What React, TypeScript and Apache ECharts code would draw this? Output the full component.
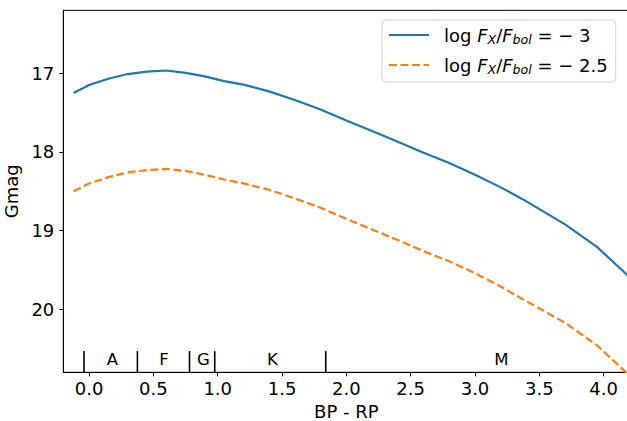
import React, { useEffect, useRef } from "react";
import * as echarts from "echarts";

// BP - RP colour grid
const bpRp = [-0.12, 0.0, 0.15, 0.3, 0.45, 0.6, 0.75, 0.9, 1.05, 1.2, 1.4, 1.6, 1.8, 2.0, 2.2, 2.4, 2.6, 2.8, 3.0, 3.2, 3.37, 3.7, 3.95, 4.2];
// Gmag for log Fx/Fbol = -3
const gmagA = [17.25, 17.15, 17.07, 17.01, 16.98, 16.965, 16.995, 17.04, 17.1, 17.145, 17.23, 17.34, 17.46, 17.6, 17.735, 17.87, 18.01, 18.14, 18.29, 18.45, 18.6, 18.92, 19.21, 19.59];
// Gmag for log Fx/Fbol = -2.5
const gmagB = [18.5, 18.4, 18.32, 18.26, 18.23, 18.215, 18.24, 18.29, 18.35, 18.4, 18.48, 18.59, 18.71, 18.85, 18.985, 19.12, 19.26, 19.39, 19.54, 19.71, 19.87, 20.17, 20.46, 20.84];

// spectral type boundaries and labels
const boundaries = [-0.039, 0.376, 0.781, 0.977, 1.84];
const boundaryTop = 20.53;
const boundaryBottom = 20.8;
const spTypes = ["A", "F", "G", "K", "M"];
const spTypeX = [0.182, 0.583, 0.889, 1.426, 3.204];
const spTypeY = 20.64;

const xTicks = [0, 0.5, 1.0, 1.5, 2.0, 2.5, 3.0, 3.5, 4.0];
const yTicks = [17, 18, 19, 20];

const FONT = "DejaVu Sans";

export default function App() {
  const ref = useRef<HTMLDivElement>(null);
  useEffect(() => {
    if (!ref.current) return;
    const chart = echarts.init(ref.current, undefined, { renderer: "svg" });
    const lineA = bpRp.map((x, i) => [x, gmagA[i]]);
    const lineB = bpRp.map((x, i) => [x, gmagB[i]]);
    const rich = {
      g: { width: 10, fontSize: 18, lineHeight: 22 },
      n: { fontSize: 18, fontFamily: FONT, color: "#000", lineHeight: 22 },
      i: { fontSize: 18, fontFamily: FONT, fontStyle: "italic", color: "#000", lineHeight: 22 },
      s: { fontSize: 12.6, fontFamily: FONT, fontStyle: "italic", color: "#000", lineHeight: 22, padding: [9, 0, 0, 0] },
    };
    chart.setOption({
      animation: false,
      grid: {
        left: 63.3,
        top: 10.3,
        right: -2.4,
        bottom: 48.7,
        show: true,
        borderColor: "#000",
        borderWidth: 1,
        containLabel: false,
        outerBoundsMode: "none",
      },
      xAxis: {
        type: "value",
        min: -0.2,
        max: 4.2,
        name: "BP - RP",
        nameLocation: "middle",
        nameGap: 29,
        nameTextStyle: { fontSize: 18, fontFamily: FONT, color: "#000" },
        axisLine: { onZero: false, lineStyle: { color: "#000", width: 1 } },
        axisTick: { show: true, inside: false, length: 4, customValues: xTicks, lineStyle: { color: "#000" } },
        axisLabel: {
          customValues: xTicks,
          formatter: (v: number) => v.toFixed(1),
          fontSize: 18,
          fontFamily: FONT,
          color: "#000",
          margin: 7,
        },
        splitLine: { show: false },
      },
      yAxis: {
        type: "value",
        inverse: true,
        min: 16.2,
        max: 20.8,
        name: "Gmag",
        nameLocation: "middle",
        nameGap: 39,
        nameRotate: 90,
        nameTextStyle: { fontSize: 18, fontFamily: FONT, color: "#000" },
        axisLine: { show: true, onZero: false, lineStyle: { color: "#000", width: 1 } },
        axisTick: { show: true, inside: false, length: 4, customValues: yTicks, lineStyle: { color: "#000" } },
        axisLabel: {
          customValues: yTicks,
          formatter: (v: number) => String(v),
          fontSize: 18,
          fontFamily: FONT,
          color: "#000",
          margin: 9,
        },
        splitLine: { show: false },
      },
      legend: {
        left: 382,
        top: 20,
        orient: "vertical",
        itemWidth: 40,
        itemHeight: 14,
        itemGap: 8,
        padding: [4, 8, 6, 6],
        borderColor: "#d0d0d0",
        borderWidth: 1,
        borderRadius: 4,
        backgroundColor: "rgba(255,255,255,0.8)",
        itemStyle: { opacity: 0 },
        data: ["a", "b"],
        formatter: (name: string) =>
          name === "a"
            ? "{g| }{n|log }{i|F}{s|X}{n|/}{i|F}{s|bol}{n| = − 3}"
            : "{g| }{n|log }{i|F}{s|X}{n|/}{i|F}{s|bol}{n| = − 2.5}",
        textStyle: { rich },
      },
      series: [
        {
          name: "a",
          type: "line",
          data: lineA,
          showSymbol: false,
          symbol: "none",
          smooth: false,
          lineStyle: { color: "#1f77b4", width: 2.2 },
          itemStyle: { color: "#1f77b4" },
        },
        {
          name: "b",
          type: "line",
          data: lineB,
          showSymbol: false,
          symbol: "none",
          smooth: false,
          lineStyle: { color: "#ff7f0e", width: 2.2, type: [8, 3.5] },
          itemStyle: { color: "#ff7f0e" },
        },
        {
          name: "bounds",
          type: "custom",
          data: boundaries.map((x) => [x, boundaryTop, boundaryBottom]),
          renderItem: (params: any, api: any) => {
            const p1 = api.coord([api.value(0), api.value(1)]);
            const p2 = api.coord([api.value(0), api.value(2)]);
            return {
              type: "line",
              shape: { x1: p1[0], y1: p1[1], x2: p2[0], y2: p2[1] },
              style: { stroke: "#000", lineWidth: 1.6 },
            };
          },
          silent: true,
        },
        {
          name: "types",
          type: "custom",
          data: spTypes.map((t, i) => [spTypeX[i], spTypeY, t]),
          renderItem: (params: any, api: any) => {
            const p = api.coord([api.value(0), api.value(1)]);
            return {
              type: "text",
              x: p[0],
              y: p[1],
              style: {
                text: spTypes[params.dataIndex],
                fill: "#000",
                fontSize: 16.5,
                fontFamily: FONT,
                align: "center",
                verticalAlign: "middle",
              },
            };
          },
          silent: true,
        },
      ],
    });
    return () => chart.dispose();
  }, []);
  return <div ref={ref} style={{ position: "absolute", left: 0, top: 0, width: 627, height: 421 }} />;
}
